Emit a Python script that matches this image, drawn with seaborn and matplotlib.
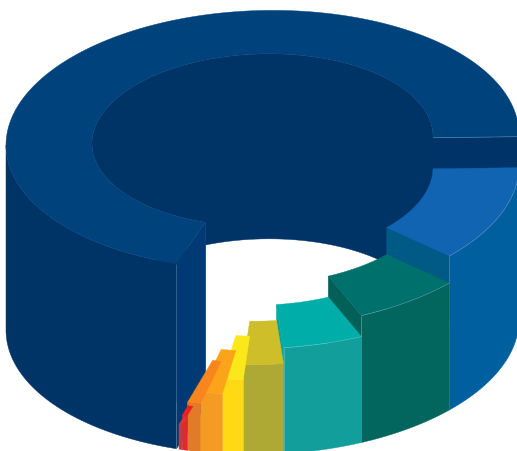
import numpy as np
import matplotlib
matplotlib.use("Agg")
import matplotlib.pyplot as plt
from matplotlib.patches import Polygon
import seaborn as sns

# Angular share of each ring segment (degrees), its height and its inner radius
segment_names = ["navy", "blue", "green", "teal", "olive", "yellow",
                 "orange", "dark orange", "red", "dark red"]
sweep_deg = [251.2, 42.5, 24.0, 18.0, 9.0, 4.7, 5.0, 3.0, 1.2, 0.8]
heights = [185, 154, 127, 106, 90, 75, 60, 48, 35, 25]
inner_radius = [170.5, 170.5, 170.5, 170.5, 170.5, 170.5, 170.5, 170.5, 238.0, 242.0]

top_colors = ["#00427C", "#1164B1", "#00706C", "#00ADA9", "#CDBE2A",
              "#FBE81A", "#FBA41A", "#F9851E", "#EC2024", "#D8343A"]
wall_colors = ["#003366", "#00609F", "#02655E", "#129F9B", "#ADA934",
               "#FFD914", "#F49B24", "#E27A28", "#E12830", "#C73A3A"]
end_colors = ["#003468", "#005A85", "#036059", "#0AA39F", "#ADA934",
              "#FFD914", "#F49B24", "#E27A28", "#E12830", "#C73A3A"]

# Projection of the ring onto the canvas
CX, CY = 262.5, 140.0
R_OUT = 256.5
SQUASH = 0.505
SHEAR = 0.02
BASE = 185.0
START_DEG = 0.8
GAP_DEG = 0.6

sns.set_theme(style="white")
top_palette = sns.color_palette(top_colors)
wall_palette = sns.color_palette(wall_colors)
end_palette = sns.color_palette(end_colors)

fig = plt.figure(figsize=(5.17, 4.51), dpi=100)
ax = fig.add_axes([0, 0, 1, 1])
ax.set_xlim(0, 517)
ax.set_ylim(451, 0)
ax.axis("off")


def project(radius, angle_deg, z):
    t = np.radians(angle_deg)
    x = CX + radius * np.cos(t)
    y = CY + radius * SQUASH * np.sin(t) - SHEAR * (x - CX) + BASE - z
    return np.column_stack([np.atleast_1d(x), np.atleast_1d(y)])


def arc(radius, a0, a1, z):
    n = max(int(abs(a1 - a0) * 2), 2)
    return project(radius, np.linspace(a0, a1, n), z)


def fill(points, color, zorder):
    ax.add_patch(Polygon(points, closed=True, facecolor=color, edgecolor=color,
                         linewidth=0.3, zorder=zorder))


def wall(radius, a0, a1, height, color, zorder):
    fill(np.vstack([arc(radius, a0, a1, height), arc(radius, a1, a0, 0)]), color, zorder)


def end_face(angle, r_in, height, color, zorder):
    pts = np.vstack([project(r_in, angle, height), project(R_OUT, angle, height),
                     project(R_OUT, angle, 0), project(r_in, angle, 0)])
    fill(pts, color, zorder)


def top_face(a0, a1, r_in, height, color, zorder):
    fill(np.vstack([arc(R_OUT, a0, a1, height), arc(r_in, a1, a0, height)]), color, zorder)


def hairline(points, zorder):
    ax.plot(points[:, 0], points[:, 1], color="white", alpha=0.3, lw=0.5,
            zorder=zorder, solid_capstyle="butt")


edges = START_DEG + np.concatenate([[0.0], np.cumsum(sweep_deg[1:])])
navy_from, navy_to = edges[-1] + GAP_DEG, START_DEG + 360.0
r0 = inner_radius[0]

# The tallest segment goes first, everything else stands in front of it
z = 1
wall(r0, navy_from, navy_to, heights[0], wall_palette[0], z)
end_face(navy_to, r0, heights[0], end_palette[0], z)
end_face(navy_from, r0, heights[0], "#003A75", z)
wall(R_OUT, navy_from, 180.0, heights[0], wall_palette[0], z)
top_face(navy_from, navy_to, r0, heights[0], top_palette[0], z + 1)
hairline(np.vstack([project(r0, navy_to, heights[0]), project(R_OUT, navy_to, heights[0])]), z + 1)
hairline(np.vstack([project(R_OUT, navy_from, heights[0]), project(R_OUT, navy_from, 0)]), z + 1)

# Remaining segments step down towards the front, drawn back to front
for i in range(1, len(sweep_deg)):
    a0, a1 = edges[i - 1], edges[i]
    h = heights[i]
    z = 2 + i
    # Past the front of the ring the far end of a segment faces away from the viewer
    if a1 < 90:
        end_face(a1, inner_radius[i], h, end_palette[i], z)
    wall(R_OUT, a0, a1, h, wall_palette[i], z)
    top_face(a0, a1, inner_radius[i], h, top_palette[i], z)
    if a1 < 90:
        hairline(np.vstack([project(R_OUT, a1, h), project(R_OUT, a1, 0)]), z)
        hairline(arc(R_OUT, a0, a1, h), z)

fig.savefig("out.png", dpi=100, facecolor="white")
